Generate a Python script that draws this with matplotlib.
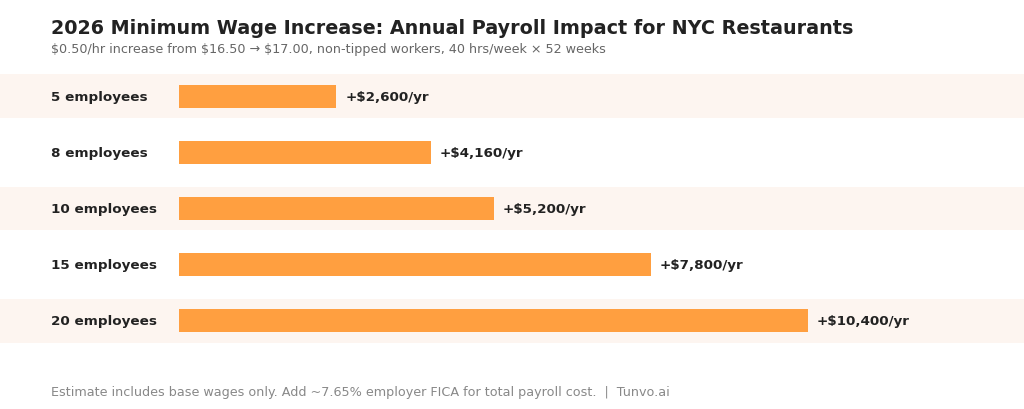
import matplotlib
matplotlib.use("Agg")
import matplotlib.pyplot as plt
from matplotlib.transforms import blended_transform_factory

# data
labels = ["5 employees", "8 employees", "10 employees", "15 employees", "20 employees"]
costs = [2600, 4160, 5200, 7800, 10400]

title = "2026 Minimum Wage Increase: Annual Payroll Impact for NYC Restaurants"
subtitle = "$0.50/hr increase from $16.50 \u2192 $17.00, non-tipped workers, 40 hrs/week \u00d7 52 weeks"
footer = "Estimate includes base wages only. Add ~7.65% employer FICA for total payroll cost.  |  Tunvo.ai"

bar_color = "#FF9F40"
band_color = "#FDF5F0"

W, H = 1024, 410
fig = plt.figure(figsize=(W / 100, H / 100), dpi=100)
fig.patch.set_facecolor("white")

# axes covers the full width, rows from y=69px to y=350px
ax = fig.add_axes([0, (H - 350) / H, 1, 281 / H])
x0_px, x1_px = 179, 808
scale = (x1_px - x0_px) / max(costs)
ax.set_xlim(-x0_px / scale, (W - x0_px) / scale)
ax.set_ylim(len(labels) - 0.5, -0.5)
ax.axis("off")

for i in range(len(labels)):
    if i % 2 == 0:
        ax.axhspan(i - 0.39, i + 0.39, color=band_color, zorder=0, lw=0)

ax.barh(range(len(labels)), costs, height=0.41, color=bar_color, zorder=2)

tr = blended_transform_factory(fig.transFigure, ax.transData)
for i, (lab, c) in enumerate(zip(labels, costs)):
    ax.text(51 / W, i, lab, transform=tr, ha="left", va="center",
            fontsize=9.7, fontweight="bold", color="#222222")
    ax.text(c + 9 / scale, i, f"+${c:,}/yr", ha="left", va="center",
            fontsize=9.7, fontweight="bold", color="#222222")

fig.text(51 / W, 1 - 28 / H, title, ha="left", va="center",
         fontsize=13.8, fontweight="bold", color="#222222")
fig.text(51 / W, 1 - 50 / H, subtitle, ha="left", va="center",
         fontsize=9.15, color="#666666")
fig.text(51 / W, 1 - 393 / H, footer, ha="left", va="center",
         fontsize=9.2, color="#888888")

fig.savefig("out.png", dpi=100, facecolor="white")
